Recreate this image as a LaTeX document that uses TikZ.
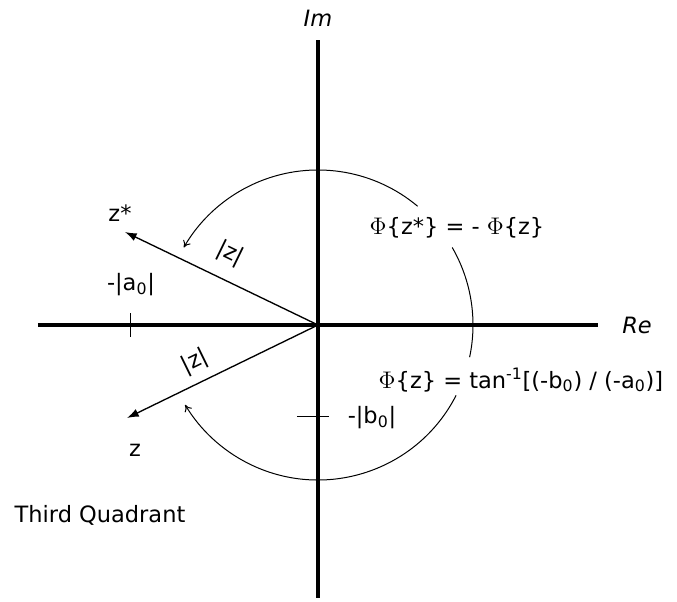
\documentclass[tikz,border=0pt]{standalone}
\usepackage{fontspec}
\setmainfont{DejaVu Sans}
\usetikzlibrary{arrows.meta}

\begin{document}
\begin{tikzpicture}[x=0.6pt, y=0.6pt, >=Stealth,
    lbl/.style={font=\fontsize{13.5}{16}\selectfont, inner sep=1pt},
    axisline/.style={line width=2.1pt},
    vecline/.style={line width=0.8pt, -{Latex[length=7pt,width=5pt]}},
    phasearc/.style={line width=0.6pt}]

  % Canvas
  \useasboundingbox (-318, -277) rectangle (359, 325);

  % ==================== AXES ====================
  \coordinate (O) at (0, 0);
  \coordinate (reL) at (-280, 0);
  \coordinate (reR) at (280, 0);
  \coordinate (imT) at (0, 285);
  \coordinate (imB) at (0, -273);
  \draw[axisline] (reL) -- (reR);
  \draw[axisline] (imB) -- (imT);
  \node[lbl] (im) at (0, 307) {\textit{Im}};
  \node[lbl] (re) at (319, 0) {\textit{Re}};

  % Ticks at -|a0| and -|b0|
  \draw[line width=0.6pt] (-187, -12) -- (-187, 12);
  \draw[line width=0.6pt] (-21, -92) -- (11, -92);
  \node[lbl] (a0) at (-187, 40) {-|a\textsubscript{0}|};
  \node[lbl] (b0) at (54, -93) {-|b\textsubscript{0}|};

  % ==================== VECTORS ====================
  \coordinate (zs) at (-193, 93);
  \coordinate (z) at (-191, -93);
  \draw[vecline] (O) -- (zs);
  \draw[vecline] (O) -- (z);
  \node[lbl] (zslbl) at (-198, 112) {z*};
  \node[lbl] (zlbl) at (-183, -125) {z};
  \node[lbl, rotate=-26, inner sep=0pt] (modup) at (-88, 71) {|z|};
  \node[lbl, rotate=26, inner sep=0pt] (moddn) at (-123, -37) {|z|};

  % ==================== PHASE ARCS ====================
  \draw[phasearc, -{To[length=4pt,width=5pt]}] (50:155) arc (50:150:155);
  \draw[phasearc] (30:155) arc (30:-12:155);
  \draw[phasearc, -{To[length=4pt,width=5pt]}] (-27:155) arc (-27:-149:155);

  % Phase labels
  \node[lbl] (phis) at (139, 97) {$\Phi$\{z*\} = - $\Phi$\{z\}};
  \node[lbl] (phi) at (203, -55) {$\Phi$\{z\} = tan\textsuperscript{-1}[(-b\textsubscript{0}) / (-a\textsubscript{0})]};

  \node[lbl] (quad) at (-218, -190) {Third Quadrant};

\end{tikzpicture}
\end{document}
